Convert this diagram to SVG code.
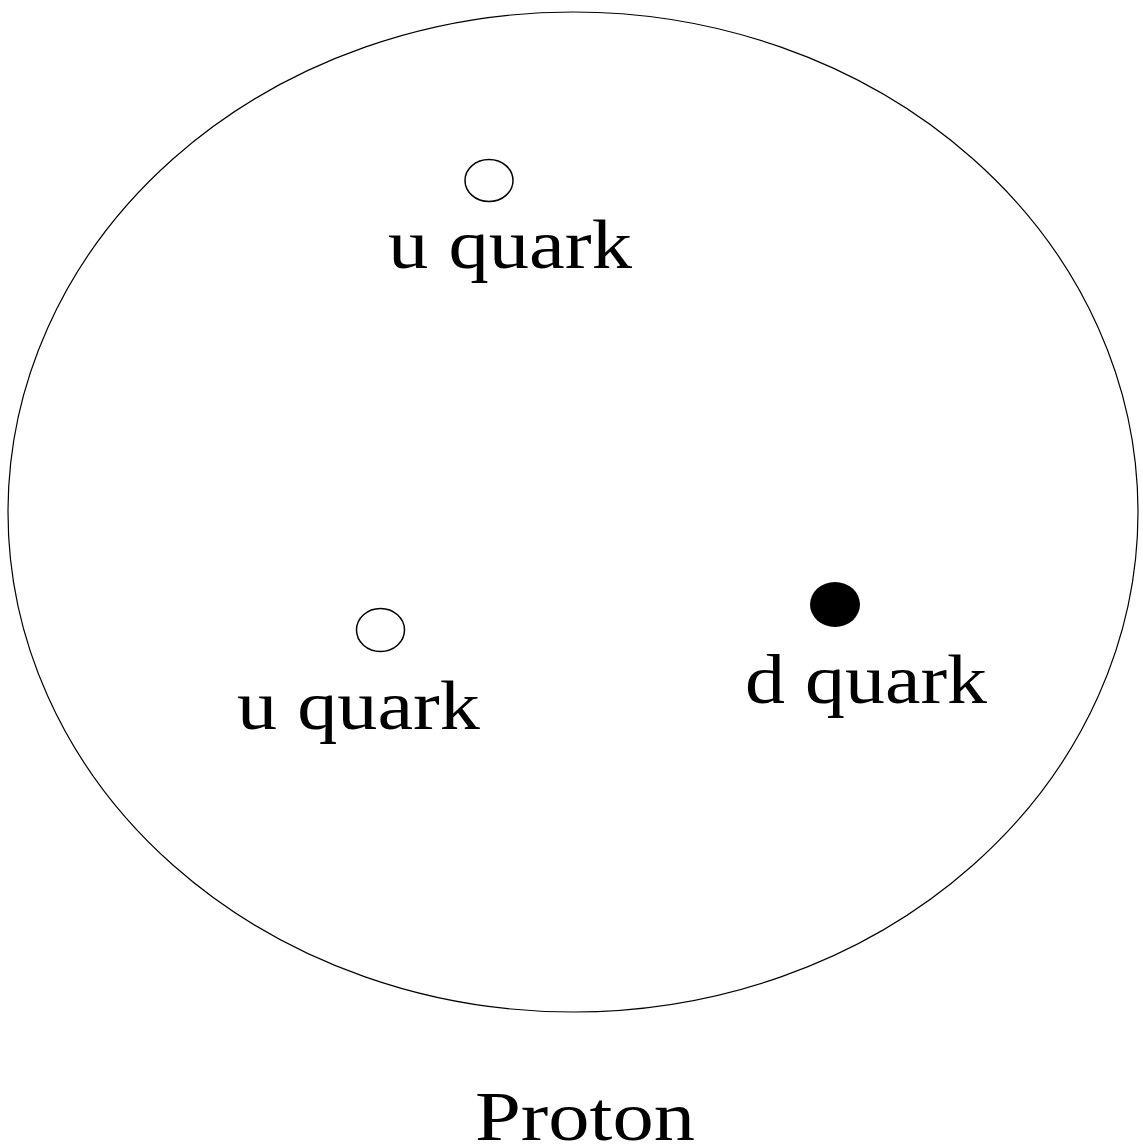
<svg xmlns="http://www.w3.org/2000/svg" width="1143" height="1148" viewBox="0 0 1143 1148">
<style>
.lbl{font-family:"Liberation Serif","Times New Roman",serif;font-size:70px;fill:#000}
.q{stroke:#000;stroke-width:1.5}
</style>
<rect width="1143" height="1148" fill="#fff"/>
<g id="proton">
<ellipse cx="573" cy="512" rx="565" ry="500" fill="none" stroke="#000" stroke-width="1.2"/>
<text class="lbl" x="475" y="1140" textLength="220" lengthAdjust="spacingAndGlyphs">Proton</text>
</g>
<g id="u-quark-top">
<ellipse class="q" cx="489" cy="180.5" rx="24" ry="21" fill="#fff"/>
<text class="lbl" x="388" y="268" textLength="244" lengthAdjust="spacingAndGlyphs">u quark</text>
</g>
<g id="u-quark-left">
<ellipse class="q" cx="380.5" cy="630" rx="24" ry="21.5" fill="#fff"/>
<text class="lbl" x="237" y="729" textLength="243" lengthAdjust="spacingAndGlyphs">u quark</text>
</g>
<g id="d-quark">
<ellipse cx="835" cy="604.5" rx="25" ry="22.5" fill="#000"/>
<text class="lbl" x="745" y="703" textLength="242" lengthAdjust="spacingAndGlyphs">d quark</text>
</g>
<g id="connectors"/>
</svg>
